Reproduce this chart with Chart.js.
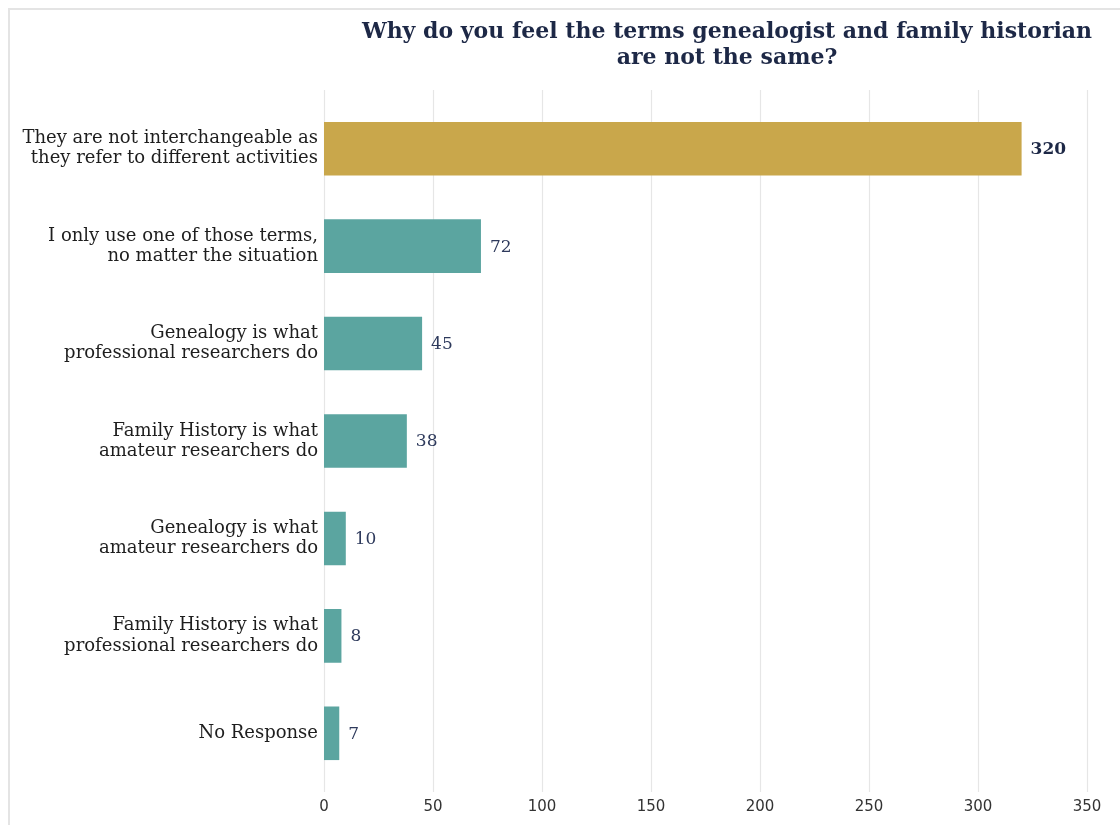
<!DOCTYPE html>
<html>
<head>
<meta charset="utf-8">
<script src="https://cdn.jsdelivr.net/npm/chart.js@4/dist/chart.umd.min.js"></script>
<style>
  html, body { margin: 0; padding: 0; background: #ffffff; overflow: hidden; }
  #wrap { position: relative; width: 1120px; height: 825px; }
  #frame { position: absolute; left: 8px; top: 8px; width: 1200px; height: 900px;
           border-left: 2px solid #e4e4e4; border-top: 2px solid #e4e4e4; box-sizing: border-box; }
  canvas { position: absolute; left: 0; top: 0; }
</style>
</head>
<body>
<div id="wrap">
  <div id="frame"></div>
  <canvas id="chart" width="1120" height="825"></canvas>
</div>
<script>
// Survey answers, largest first
const categories = [
  ["They are not interchangeable as", "they refer to different activities"],
  ["I only use one of those terms,", "no matter the situation"],
  ["Genealogy is what", "professional researchers do"],
  ["Family History is what", "amateur researchers do"],
  ["Genealogy is what", "amateur researchers do"],
  ["Family History is what", "professional researchers do"],
  ["No Response"]
];
const responses = [320, 72, 45, 38, 10, 8, 7];
const xTicks = [0, 50, 100, 150, 200, 250, 300, 350];
const titleLines = [
  "Why do you feel the terms genealogist and family historian",
  "are not the same?"
];

const GOLD = "#c9a74b";
const TEAL = "#5ba5a0";
const NAVY = "#1d2846";
const SERIF = "'DejaVu Serif', serif";

const topIndex = responses.indexOf(Math.max(...responses));
const barColors = responses.map((v, i) => i === topIndex ? GOLD : TEAL);

// Vertical grid lines that run a little past the plot area, drawn from the x scale
const gridPlugin = {
  id: "extendedGrid",
  beforeDatasetsDraw(chart) {
    const { ctx, chartArea, scales } = chart;
    ctx.save();
    ctx.strokeStyle = "#e6e6e6";
    ctx.lineWidth = 1.2;
    scales.x.ticks.forEach(t => {
      const x = Math.round(scales.x.getPixelForValue(t.value)) + 0.5;
      ctx.beginPath();
      ctx.moveTo(x, chartArea.top - 10);
      ctx.lineTo(x, chartArea.bottom + 10);
      ctx.stroke();
    });
    ctx.restore();
  }
};

// Count printed at the end of every bar
const valueLabelPlugin = {
  id: "valueLabels",
  afterDatasetsDraw(chart) {
    const { ctx } = chart;
    const meta = chart.getDatasetMeta(0);
    ctx.save();
    ctx.textAlign = "left";
    ctx.textBaseline = "middle";
    meta.data.forEach((bar, i) => {
      const bold = i === topIndex;
      ctx.font = (bold ? "bold " : "") + "17px " + SERIF;
      ctx.fillStyle = bold ? NAVY : "#2e3a5c";
      ctx.fillText(String(responses[i]), bar.x + 9, bar.y + 1);
    });
    ctx.restore();
  }
};

// Two-line heading centred over the plot side of the figure
const headingPlugin = {
  id: "heading",
  afterDraw(chart) {
    const { ctx, chartArea } = chart;
    const cx = (chartArea.left + chart.width) / 2 + 5;
    ctx.save();
    ctx.font = "bold 22px " + SERIF;
    ctx.fillStyle = NAVY;
    ctx.textAlign = "center";
    ctx.textBaseline = "middle";
    titleLines.forEach((line, i) => ctx.fillText(line, cx, 32 + i * 26));
    ctx.restore();
  }
};

new Chart(document.getElementById("chart"), {
  type: "bar",
  data: {
    labels: categories,
    datasets: [{
      data: responses,
      backgroundColor: barColors,
      borderWidth: 0,
      categoryPercentage: 1.0,
      barPercentage: 0.55
    }]
  },
  options: {
    indexAxis: "y",
    responsive: false,
    animation: false,
    devicePixelRatio: 1,
    layout: { padding: { left: 9, right: 33, top: 100, bottom: -7 } },
    plugins: {
      legend: { display: false },
      title: { display: false },
      tooltip: { enabled: false }
    },
    scales: {
      x: {
        type: "linear",
        min: xTicks[0],
        max: xTicks[xTicks.length - 1],
        afterBuildTicks(scale) { scale.ticks = xTicks.map(v => ({ value: v })); },
        grid: { display: false, drawTicks: false },
        border: { display: false },
        ticks: {
          padding: 16,
          color: "#333333",
          font: { family: "'DejaVu Sans', sans-serif", size: 15 }
        }
      },
      y: {
        type: "category",
        afterFit(scale) { scale.width = 315; },
        grid: { display: false, drawTicks: false },
        border: { display: false },
        ticks: {
          padding: 6,
          color: "#1e1e1e",
          font: { family: SERIF, size: 18, lineHeight: 1.12 }
        }
      }
    }
  },
  plugins: [gridPlugin, valueLabelPlugin, headingPlugin]
});
</script>
</body>
</html>
